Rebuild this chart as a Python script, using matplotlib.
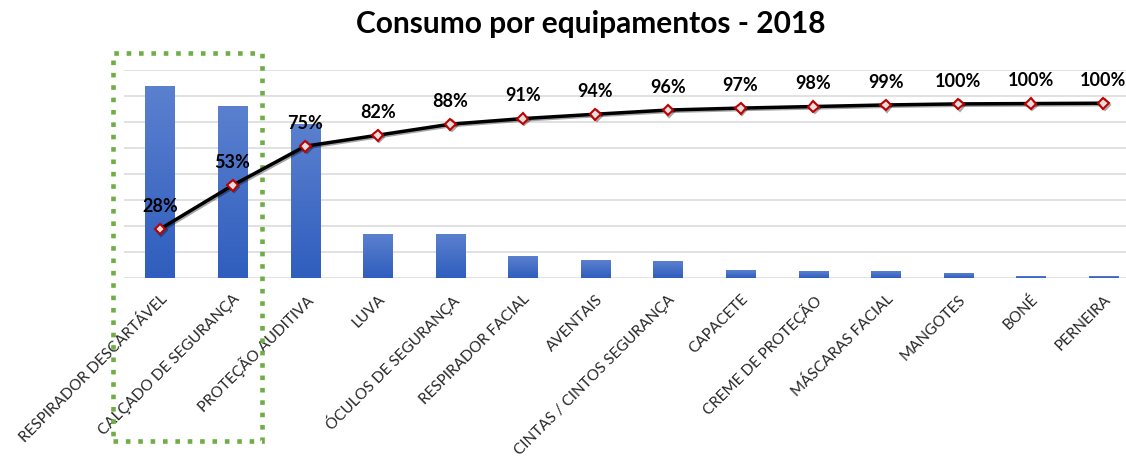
import numpy as np
import matplotlib
matplotlib.use("Agg")
import matplotlib.pyplot as plt
from matplotlib.colors import LinearSegmentedColormap
from matplotlib.patches import Rectangle
import matplotlib.patheffects as pe
import matplotlib.transforms as mtransforms

plt.rcParams['font.family'] = ['Lato', 'DejaVu Sans']

categories = ["RESPIRADOR DESCARTÁVEL", "CALÇADO DE SEGURANÇA", "PROTEÇÃO AUDITIVA",
              "LUVA", "ÓCULOS DE SEGURANÇA", "RESPIRADOR FACIAL", "AVENTAIS",
              "CINTAS / CINTOS SEGURANÇA", "CAPACETE", "CREME DE PROTEÇÃO",
              "MÁSCARAS FACIAL", "MANGOTES", "BONÉ", "PERNEIRA"]
consumo = [280, 250, 224, 63, 63, 32, 25, 24, 11, 9, 9, 6, 2, 2]
title = "Consumo por equipamentos - 2018"
highlight_range = (0, 1)  # categories highlighted by the dotted box

vals = np.array(consumo, dtype=float)
cum = np.cumsum(vals) / vals.sum()
x = np.arange(len(categories))

W, H = 1126, 460
fig = plt.figure(figsize=(W / 100, H / 100), dpi=100)
ax = fig.add_axes([123.7 / W, (H - 279) / H, 1016 / W, 208 / H])

bars = ax.bar(x, vals, width=0.4, color="#4169C4", zorder=2)
cmap = LinearSegmentedColormap.from_list("g", ["#2F5EBE", "#5B80CF"])
grad = np.linspace(0, 1, 256).reshape(-1, 1)
for b in bars:
    bx, bw, bh = b.get_x(), b.get_width(), b.get_height()
    ax.imshow(grad, extent=[bx, bx + bw, 0, bh], origin='lower', aspect='auto',
              cmap=cmap, zorder=2.5, interpolation='bicubic')

ax2 = ax.twinx()

ymax = 304
ax.set_ylim(0, ymax)
ax.set_xlim(-0.5, len(categories) - 0.5)
ax.set_yticks(np.linspace(0, ymax, 9))
ax.yaxis.grid(True, color="#D9D9D9", linewidth=1.1)
ax.set_axisbelow(True)
for s in ax.spines.values():
    s.set_visible(False)
ax.tick_params(axis='y', left=False, right=False, labelleft=False, labelright=False)
ax.tick_params(axis='x', bottom=False, pad=6)
ax.set_xticks(x)
ax.set_xticklabels(categories, rotation=45, ha='right', rotation_mode='anchor',
                   fontsize=11, color="#262626")

ax2.set_ylim(0, 1.19)
ax2.set_axis_off()
ax2.plot(x, cum, color='black', linewidth=2.5, marker='D', markersize=5.5,
         markerfacecolor='#E0E0E0', markeredgecolor='#C00000', markeredgewidth=1.5,
         zorder=3,
         path_effects=[pe.SimpleLineShadow(offset=(1, -1), alpha=0.35), pe.Normal()])
for xi, c in zip(x, cum):
    ax2.annotate(f"{c:.0%}", (xi, c), xytext=(0, 17), textcoords='offset points',
                 ha='center', va='center', fontsize=13, fontweight='bold', color='black')

fig.text(591 / W, 1 - 24 / H, title, ha='center', va='center', fontsize=21.5,
         fontweight='bold', color='black')

trans = mtransforms.blended_transform_factory(ax.transData, ax.transAxes)
x0 = highlight_range[0] - 0.65
x1 = highlight_range[1] + 0.41
rect = Rectangle((x0, -0.782), x1 - x0, 1.08 + 0.782, transform=trans, fill=False,
                 edgecolor='#70AD47', linewidth=3.3, linestyle=(0, (1, 1.7)),
                 clip_on=False, zorder=5)
rect.set_capstyle('butt')
ax.add_patch(rect)

fig.savefig("out.png", dpi=100)
